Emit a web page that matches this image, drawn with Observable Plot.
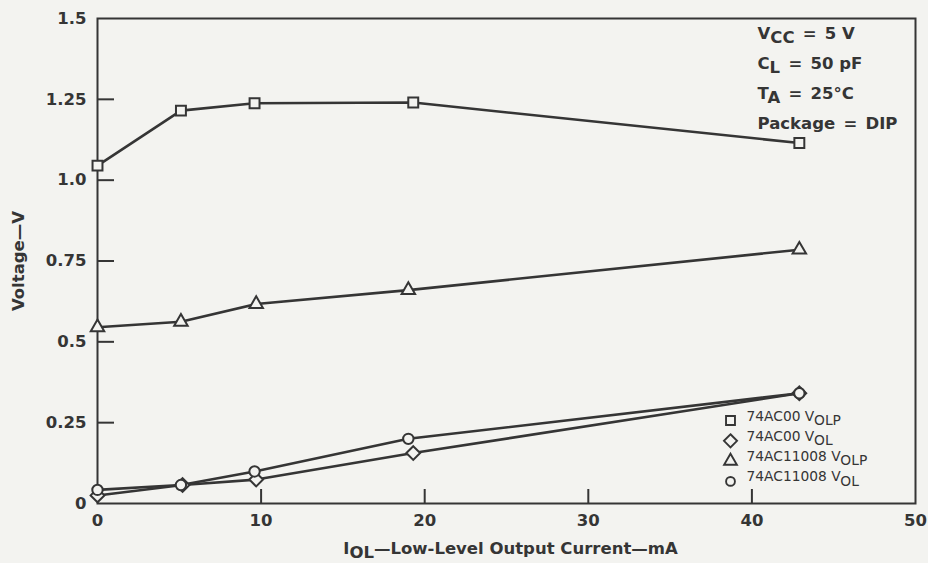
<!DOCTYPE html>
<html>
<head>
<meta charset="utf-8">
<script src="https://cdn.jsdelivr.net/npm/d3@7"></script>
<script src="https://cdn.jsdelivr.net/npm/@observablehq/plot@0.6"></script>
<style>
  html, body { margin: 0; padding: 0; background: #f3f3f0; }
  #chart { width: 928px; height: 563px; }
</style>
</head>
<body>
<div id="chart"></div>
<script>
// Low-level output voltage vs low-level output current (I_OL, mA)
const seriesNames = ["74AC00 V{OLP}", "74AC00 V{OL}", "74AC11008 V{OLP}", "74AC11008 V{OL}"];
const seriesSymbols = ["square", "diamond2", "triangle", "circle"];

const ac00VolpCurrent = [0, 5.1, 9.6, 19.3, 42.9];
const ac00VolpVoltage = [1.045, 1.215, 1.238, 1.24, 1.115];

const ac00VolCurrent = [0, 5.2, 9.7, 19.3, 42.9];
const ac00VolVoltage = [0.025, 0.057, 0.074, 0.156, 0.341];

const ac11008VolpCurrent = [0, 5.1, 9.7, 19.0, 42.9];
const ac11008VolpVoltage = [0.545, 0.562, 0.617, 0.66, 0.785];

const ac11008VolCurrent = [0, 5.1, 9.6, 19.0, 42.9];
const ac11008VolVoltage = [0.042, 0.057, 0.099, 0.2, 0.341];

const xTickValues = [0, 10, 20, 30, 40, 50];
const xTickMarks = [10, 20, 30, 40];
const yTickValues = [0, 0.25, 0.5, 0.75, 1.0, 1.25, 1.5];
const yTickLabels = ["0", "0.25", "0.5", "0.75", "1.0", "1.25", "1.5"];
const yTickMarks = [0.25, 0.5, 0.75, 1.0, 1.25];

const xTitle = "I{OL}\u2014Low-Level Output Current\u2014mA";
const yTitle = "Voltage\u2014V";
const conditions = [
  "V{CC}\u2002=\u20025 V",
  "C{L}\u2002=\u200250 pF",
  "T{A}\u2002=\u200225\u00B0C",
  "Package\u2002=\u2002DIP"
];

const ink = "#353535";
const paper = "#f3f3f0";
const font = "'DejaVu Sans', Verdana, sans-serif";
const bigText = 16.5;

const seriesData = [
  [ac00VolpCurrent, ac00VolpVoltage],
  [ac00VolCurrent, ac00VolVoltage],
  [ac11008VolpCurrent, ac11008VolpVoltage],
  [ac11008VolCurrent, ac11008VolVoltage]
].map(([xs, ys], s) => xs.map((x, i) => ({series: seriesNames[s], current: x, voltage: ys[i]})));

const yLabelOf = new Map(yTickValues.map((v, i) => [v, yTickLabels[i]]));
const bold = {fill: ink, fontSize: bigText, fontWeight: "bold", fontFamily: font};

const marks = [
  Plot.frame({stroke: ink, strokeWidth: 2}),
  // inward ticks
  Plot.axisY(yTickMarks, {anchor: "left", tickSize: 17, dx: 17, fill: "none", stroke: ink, strokeWidth: 2}),
  Plot.axisX(xTickMarks, {anchor: "bottom", tickSize: 14, dy: -14, fill: "none", stroke: ink, strokeWidth: 2}),
  // tick labels
  Plot.axisY(yTickValues, {anchor: "left", tickSize: 0, tickPadding: 11, tickFormat: d => yLabelOf.get(d), label: null, ...bold}),
  Plot.axisX(xTickValues, {anchor: "bottom", tickSize: 0, tickPadding: 11, tickFormat: d => String(d), label: null, ...bold}),
  // axis titles
  Plot.text([yTitle], {text: d => d, frameAnchor: "left", textAnchor: "middle", rotate: -90, dx: -79, ...bold}),
  Plot.text([xTitle], {text: d => d, frameAnchor: "bottom", textAnchor: "middle", dy: 50, dx: 4, ...bold}),
  // operating conditions
  ...conditions.map((c, i) => Plot.text([c], {
    text: d => d, frameAnchor: "top-left", textAnchor: "start", lineAnchor: "bottom",
    dx: 660, dy: 20 + i * 30, ...bold
  }))
];

seriesData.forEach(rows => {
  marks.push(Plot.line(rows, {x: "current", y: "voltage", stroke: ink, strokeWidth: 2.6}));
});
const markerR = {square: 5.6, diamond2: 6.2, triangle: 5, circle: 5.2};
seriesData.forEach((rows, s) => {
  const sym = seriesSymbols[s];
  marks.push(Plot.dot(rows, {x: "current", y: "voltage", symbol: () => sym, r: markerR[sym],
    stroke: ink, fill: paper, strokeWidth: 2}));
});

// legend
const legendScale = {square: 0.9, diamond2: 0.95, triangle: 0.95, circle: 0.85};
seriesNames.forEach((name, i) => {
  const sym = seriesSymbols[i];
  marks.push(Plot.dot([name], {frameAnchor: "bottom-right", dx: -185, dy: -83 + i * 20.3,
    symbol: () => sym, r: markerR[sym] * legendScale[sym], stroke: ink, fill: paper, strokeWidth: 1.9}));
  marks.push(Plot.text([name], {text: d => d, frameAnchor: "bottom-right", textAnchor: "start",
    dx: -169, dy: -83 + i * 20.3, fill: ink, fontSize: 13.8, fontWeight: "normal", fontFamily: font}));
});

const chart = Plot.plot({
  width: 928,
  height: 563,
  marginLeft: 97,
  marginRight: 13,
  marginTop: 18,
  marginBottom: 60,
  style: {background: paper, fontFamily: font, color: ink},
  x: {domain: [0, 50], axis: null},
  y: {domain: [0, 1.5], axis: null},
  symbol: {type: "identity"},
  marks
});

// render {…} segments as subscripts
d3.select(chart).selectAll("text").each(function () {
  const t = this.textContent;
  if (!t.includes("{")) return;
  const parts = t.split(/(\{[^}]*\})/).filter(p => p.length);
  this.textContent = "";
  let down = false;
  for (const p of parts) {
    const sub = p.startsWith("{");
    const ts = d3.select(this).append("tspan").text(sub ? p.slice(1, -1) : p);
    if (sub && !down) { ts.attr("dy", "0.3em"); down = true; }
    else if (!sub && down) { ts.attr("dy", "-0.3em"); down = false; }
  }
});

document.getElementById("chart").append(chart);
</script>
</body>
</html>
